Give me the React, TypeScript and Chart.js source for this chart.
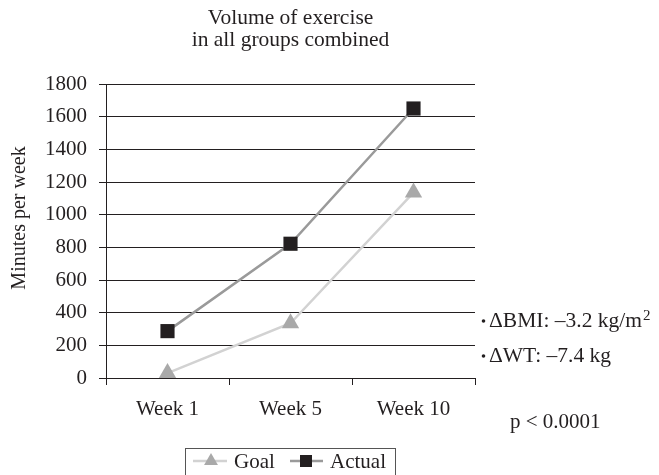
import React, { useEffect, useRef } from 'react';
import { Chart, registerables } from 'chart.js';

Chart.register(...registerables);

const categories = ['Week 1', 'Week 5', 'Week 10'];
const goalValues = [30, 335, 1135];
const actualValues = [287, 822, 1650];
const seriesNames = ['Goal', 'Actual'];
const titleLines = ['Volume of exercise', 'in all groups combined'];
const yAxisTitle = 'Minutes per week';
const notes = ['ΔBMI: –3.2 kg/m', 'ΔWT: –7.4 kg'];
const pValueText = 'p < 0.0001';

const FONT = '"Liberation Serif", "DejaVu Serif", serif';
const INK = '#231f20';
const GOAL_LINE = '#d2d2d2';
const GOAL_MARK = '#a9a9a9';
const ACTUAL_LINE = '#9a9a9a';
const ACTUAL_MARK = '#231f20';

const decorPlugin = {
  id: 'decor',
  afterDraw(chart: any) {
    const ctx: CanvasRenderingContext2D = chart.ctx;
    const area = chart.chartArea;
    const cx = (area.left + area.right) / 2;
    ctx.save();
    ctx.fillStyle = INK;
    ctx.font = `21.5px ${FONT}`;
    ctx.textAlign = 'center';
    ctx.textBaseline = 'alphabetic';
    ctx.fillText(titleLines[0], cx, 24);
    ctx.fillText(titleLines[1], cx, 46);

    // y axis title
    ctx.save();
    ctx.font = `20px ${FONT}`;
    ctx.translate(20, 218);
    ctx.rotate(-Math.PI / 2);
    ctx.textBaseline = 'middle';
    ctx.fillText(yAxisTitle, 0, 0);
    ctx.restore();

    // notes
    ctx.textAlign = 'left';
    const noteY = [327, 362];
    notes.forEach((t, i) => {
      ctx.beginPath();
      ctx.arc(483.5, noteY[i] - 6, 1.8, 0, Math.PI * 2);
      ctx.fill();
      ctx.font = `21.5px ${FONT}`;
      ctx.fillText(t, 489, noteY[i]);
      if (i === 0) {
        const w = ctx.measureText(t).width;
        ctx.font = `15px ${FONT}`;
        ctx.fillText('2', 489 + w + 1, noteY[i] - 7);
      }
    });
    ctx.font = `21px ${FONT}`;
    ctx.fillText(pValueText, 510, 428);

    // legend
    ctx.strokeStyle = '#555';
    ctx.lineWidth = 1;
    ctx.strokeRect(185.5, 448.5, 210, 40);
    const ly = 461;
    // goal symbol
    ctx.strokeStyle = GOAL_LINE;
    ctx.lineWidth = 2.5;
    ctx.beginPath();
    ctx.moveTo(193, ly);
    ctx.lineTo(227, ly);
    ctx.stroke();
    ctx.fillStyle = GOAL_MARK;
    const r = 8;
    ctx.beginPath();
    ctx.moveTo(211, ly - r);
    ctx.lineTo(211 + r * 0.866, ly + r / 2);
    ctx.lineTo(211 - r * 0.866, ly + r / 2);
    ctx.closePath();
    ctx.fill();
    // actual symbol
    ctx.strokeStyle = ACTUAL_LINE;
    ctx.beginPath();
    ctx.moveTo(290, ly);
    ctx.lineTo(323, ly);
    ctx.stroke();
    ctx.fillStyle = ACTUAL_MARK;
    ctx.fillRect(300, ly - 6, 12, 12);
    ctx.fillStyle = INK;
    ctx.font = `21px ${FONT}`;
    ctx.fillText(seriesNames[0], 234, 468);
    ctx.fillText(seriesNames[1], 330, 468);
    ctx.restore();
  },
};

export default function App() {
  const ref = useRef<HTMLCanvasElement>(null);
  useEffect(() => {
    if (!ref.current) return;
    const chart = new Chart(ref.current, {
      type: 'line',
      data: {
        labels: categories,
        datasets: [
          {
            label: seriesNames[0],
            data: goalValues,
            borderColor: GOAL_LINE,
            borderWidth: 2.5,
            pointStyle: 'triangle',
            pointRadius: 10,
            pointBackgroundColor: GOAL_MARK,
            pointBorderColor: GOAL_MARK,
            pointBorderWidth: 0,
            clip: false as any,
          },
          {
            label: seriesNames[1],
            data: actualValues,
            borderColor: ACTUAL_LINE,
            borderWidth: 2.5,
            pointStyle: 'rect',
            pointRadius: 10,
            pointBackgroundColor: ACTUAL_MARK,
            pointBorderColor: ACTUAL_MARK,
            pointBorderWidth: 0,
            clip: false as any,
          },
        ],
      },
      options: {
        animation: false,
        responsive: false,
        devicePixelRatio: 1,
        layout: { padding: { left: 0, top: 84, right: 184, bottom: 0 } },
        plugins: {
          legend: { display: false },
          title: { display: false },
          tooltip: { enabled: false },
        },
        scales: {
          x: {
            type: 'category',
            offset: true,
            grid: {
              offset: true,
              drawOnChartArea: false,
              drawTicks: true,
              tickLength: 7,
              color: INK,
              lineWidth: 1,
            },
            border: { display: true, color: INK, width: 1 },
            ticks: {
              color: INK,
              font: { family: FONT, size: 21 },
              padding: 12,
              maxRotation: 0,
            },
            afterFit(scale: any) {
              scale.height = 475 - 378;
            },
          },
          y: {
            min: 0,
            max: 1800,
            grid: {
              color: INK,
              lineWidth: 1,
              tickLength: 7,
              drawTicks: true,
            },
            border: { display: true, color: INK, width: 1 },
            ticks: {
              stepSize: 200,
              color: INK,
              font: { family: FONT, size: 21 },
              padding: 12,
              callback: (v: any) => String(v),
            },
            afterFit(scale: any) {
              scale.width = 106;
            },
          },
        },
      },
      plugins: [decorPlugin],
    });
    return () => chart.destroy();
  }, []);
  return (
    <div style={{ position: 'absolute', left: 0, top: 0, width: 659, height: 475, background: '#fff' }}>
      <canvas ref={ref} width={659} height={475} />
    </div>
  );
}
